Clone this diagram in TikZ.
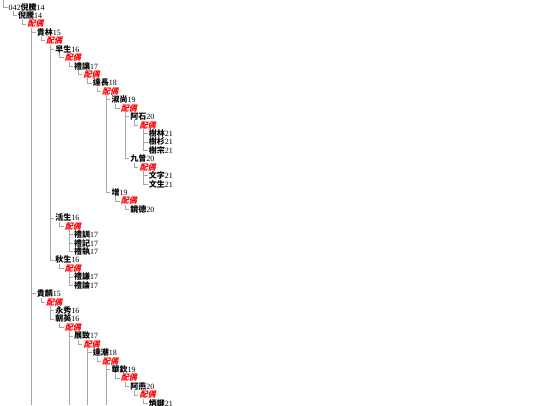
\documentclass[tikz,border=0pt]{standalone}
\usepackage{fontspec}
\setmainfont{Liberation Serif}
\newfontfamily\cjk{Noto Sans CJK TC}
\newfontfamily\cjkpenche[FakeSlant=0.25]{Noto Sans CJK TC}
\newcommand\hz[1]{{\cjk\bfseries #1}}

\tikzset{
  nom/.style={anchor=west, inner sep=0pt, font=\fontsize{8}{9}\selectfont},
  conj/.style={anchor=west, inner sep=0pt, text=red, font=\fontsize{8}{9}\selectfont\cjkpenche\bfseries},
  lien/.style={draw=black!35, line width=0.5pt}
}

\begin{document}
\begin{tikzpicture}[x=1pt,y=1pt]
\useasboundingbox (0,0) rectangle (540,-405);
\coordinate (haut) at (3.5,0);
\coordinate (bas) at (0,-405);

\begin{scope}[x=9.35pt,y=-8.43pt,shift={(8.5pt,-7pt)}]
%branche de 貴林
\node[nom] (racine) at (0,0) {042\hz{倪騰}14};
\node[nom] (niteng14) at (1,1) {\hz{倪騰}14};
\node[conj] (niteng14p) at (2,2) {配偶};
\node[nom] (guilin15) at (3,3) {\hz{貴林}15};
\node[conj] (guilin15p) at (4,4) {配偶};
\node[nom] (zaosheng16) at (5,5) {\hz{早生}16};
\node[conj] (zaosheng16p) at (6,6) {配偶};
\node[nom] (lirang17) at (7,7) {\hz{禮讓}17};
\node[conj] (lirang17p) at (8,8) {配偶};
\node[nom] (dachang18) at (9,9) {\hz{達長}18};
\node[conj] (dachang18p) at (10,10) {配偶};
\node[nom] (shushang19) at (11,11) {\hz{淑尚}19};
\node[conj] (shushang19p) at (12,12) {配偶};
\node[nom] (ashi20) at (13,13) {\hz{阿石}20};
\node[conj] (ashi20p) at (14,14) {配偶};
\node[nom] (shulin21) at (15,15) {\hz{樹林}21};
\node[nom] (shushan21) at (15,16) {\hz{樹杉}21};
\node[nom] (shuzong21) at (15,17) {\hz{樹宗}21};
\node[nom] (jiuceng20) at (13,18) {\hz{九曾}20};
\node[conj] (jiuceng20p) at (14,19) {配偶};
\node[nom] (wenzi21) at (15,20) {\hz{文字}21};
\node[nom] (wensheng21) at (15,21) {\hz{文生}21};
\node[nom] (qiang19) at (11,22) {\hz{增}19};
\node[conj] (qiang19p) at (12,23) {配偶};
\node[nom] (jingde20) at (13,24) {\hz{鏡德}20};
\node[nom] (huosheng16) at (5,25) {\hz{活生}16};
\node[conj] (huosheng16p) at (6,26) {配偶};
\node[nom] (lixun17) at (7,27) {\hz{禮訓}17};
\node[nom] (liji17) at (7,28) {\hz{禮記}17};
\node[nom] (lizhi17) at (7,29) {\hz{禮執}17};
\node[nom] (qiusheng16) at (5,30) {\hz{秋生}16};
\node[conj] (qiusheng16p) at (6,31) {配偶};
\node[nom] (liqian17) at (7,32) {\hz{禮謙}17};
\node[nom] (lilun17) at (7,33) {\hz{禮論}17};
%branche de 貴麟
\node[nom] (guiling15) at (3,34) {\hz{貴麟}15};
\node[conj] (guiling15p) at (4,35) {配偶};
\node[nom] (yongxiu16) at (5,36) {\hz{永秀}16};
\node[nom] (chaoying16) at (5,37) {\hz{朝英}16};
\node[conj] (chaoying16p) at (6,38) {配偶};
\node[nom] (zhanzhi17) at (7,39) {\hz{展致}17};
\node[conj] (zhanzhi17p) at (8,40) {配偶};
\node[nom] (dachao18) at (9,41) {\hz{達潮}18};
\node[conj] (dachao18p) at (10,42) {配偶};
\node[nom] (huaqin19) at (11,43) {\hz{華欽}19};
\node[conj] (huaqin19p) at (12,44) {配偶};
\node[nom] (ayan20) at (13,45) {\hz{阿燕}20};
\node[conj] (ayan20p) at (14,46) {配偶};
\node[nom] (bingjian21) at (15,47) {\hz{炳鍵}21};
\end{scope}

%liens
\draw[lien] (haut) |- ([xshift=-1pt]racine.west);
\draw[lien] ([xshift=4.3pt]racine.south west) |- ([xshift=-1pt]niteng14.west);
\draw[lien] ([xshift=4.3pt]niteng14.south west) |- ([xshift=-1pt]niteng14p.west);
\draw[lien] ([xshift=4.3pt]niteng14p.south west) |- ([xshift=-1pt]guilin15.west);
\draw[lien] ([xshift=4.3pt]niteng14p.south west) |- ([xshift=-1pt]guiling15.west);
\draw[lien] ([xshift=4.3pt]guilin15.south west) |- ([xshift=-1pt]guilin15p.west);
\draw[lien] ([xshift=4.3pt]guilin15p.south west) |- ([xshift=-1pt]zaosheng16.west);
\draw[lien] ([xshift=4.3pt]guilin15p.south west) |- ([xshift=-1pt]huosheng16.west);
\draw[lien] ([xshift=4.3pt]guilin15p.south west) |- ([xshift=-1pt]qiusheng16.west);
\draw[lien] ([xshift=4.3pt]zaosheng16.south west) |- ([xshift=-1pt]zaosheng16p.west);
\draw[lien] ([xshift=4.3pt]zaosheng16p.south west) |- ([xshift=-1pt]lirang17.west);
\draw[lien] ([xshift=4.3pt]lirang17.south west) |- ([xshift=-1pt]lirang17p.west);
\draw[lien] ([xshift=4.3pt]lirang17p.south west) |- ([xshift=-1pt]dachang18.west);
\draw[lien] ([xshift=4.3pt]dachang18.south west) |- ([xshift=-1pt]dachang18p.west);
\draw[lien] ([xshift=4.3pt]dachang18p.south west) |- ([xshift=-1pt]shushang19.west);
\draw[lien] ([xshift=4.3pt]dachang18p.south west) |- ([xshift=-1pt]qiang19.west);
\draw[lien] ([xshift=4.3pt]shushang19.south west) |- ([xshift=-1pt]shushang19p.west);
\draw[lien] ([xshift=4.3pt]shushang19p.south west) |- ([xshift=-1pt]ashi20.west);
\draw[lien] ([xshift=4.3pt]shushang19p.south west) |- ([xshift=-1pt]jiuceng20.west);
\draw[lien] ([xshift=4.3pt]ashi20.south west) |- ([xshift=-1pt]ashi20p.west);
\draw[lien] ([xshift=4.3pt]ashi20p.south west) |- ([xshift=-1pt]shulin21.west);
\draw[lien] ([xshift=4.3pt]ashi20p.south west) |- ([xshift=-1pt]shushan21.west);
\draw[lien] ([xshift=4.3pt]ashi20p.south west) |- ([xshift=-1pt]shuzong21.west);
\draw[lien] ([xshift=4.3pt]jiuceng20.south west) |- ([xshift=-1pt]jiuceng20p.west);
\draw[lien] ([xshift=4.3pt]jiuceng20p.south west) |- ([xshift=-1pt]wenzi21.west);
\draw[lien] ([xshift=4.3pt]jiuceng20p.south west) |- ([xshift=-1pt]wensheng21.west);
\draw[lien] ([xshift=4.3pt]qiang19.south west) |- ([xshift=-1pt]qiang19p.west);
\draw[lien] ([xshift=4.3pt]qiang19p.south west) |- ([xshift=-1pt]jingde20.west);
\draw[lien] ([xshift=4.3pt]huosheng16.south west) |- ([xshift=-1pt]huosheng16p.west);
\draw[lien] ([xshift=4.3pt]huosheng16p.south west) |- ([xshift=-1pt]lixun17.west);
\draw[lien] ([xshift=4.3pt]huosheng16p.south west) |- ([xshift=-1pt]liji17.west);
\draw[lien] ([xshift=4.3pt]huosheng16p.south west) |- ([xshift=-1pt]lizhi17.west);
\draw[lien] ([xshift=4.3pt]qiusheng16.south west) |- ([xshift=-1pt]qiusheng16p.west);
\draw[lien] ([xshift=4.3pt]qiusheng16p.south west) |- ([xshift=-1pt]liqian17.west);
\draw[lien] ([xshift=4.3pt]qiusheng16p.south west) |- ([xshift=-1pt]lilun17.west);
\draw[lien] ([xshift=4.3pt]guiling15.south west) |- ([xshift=-1pt]guiling15p.west);
\draw[lien] ([xshift=4.3pt]guiling15p.south west) |- ([xshift=-1pt]yongxiu16.west);
\draw[lien] ([xshift=4.3pt]guiling15p.south west) |- ([xshift=-1pt]chaoying16.west);
\draw[lien] ([xshift=4.3pt]chaoying16.south west) |- ([xshift=-1pt]chaoying16p.west);
\draw[lien] ([xshift=4.3pt]chaoying16p.south west) |- ([xshift=-1pt]zhanzhi17.west);
\draw[lien] ([xshift=4.3pt]zhanzhi17.south west) |- ([xshift=-1pt]zhanzhi17p.west);
\draw[lien] ([xshift=4.3pt]zhanzhi17p.south west) |- ([xshift=-1pt]dachao18.west);
\draw[lien] ([xshift=4.3pt]dachao18.south west) |- ([xshift=-1pt]dachao18p.west);
\draw[lien] ([xshift=4.3pt]dachao18p.south west) |- ([xshift=-1pt]huaqin19.west);
\draw[lien] ([xshift=4.3pt]huaqin19.south west) |- ([xshift=-1pt]huaqin19p.west);
\draw[lien] ([xshift=4.3pt]huaqin19p.south west) |- ([xshift=-1pt]ayan20.west);
\draw[lien] ([xshift=4.3pt]ayan20.south west) |- ([xshift=-1pt]ayan20p.west);
\draw[lien] ([xshift=4.3pt]ayan20p.south west) |- ([xshift=-1pt]bingjian21.west);
%suite hors cadre
\draw[lien] ([xshift=4.3pt]niteng14p.south west) -- ([xshift=4.3pt]niteng14p.south west |- bas);
\draw[lien] ([xshift=4.3pt]chaoying16p.south west) -- ([xshift=4.3pt]chaoying16p.south west |- bas);
\draw[lien] ([xshift=4.3pt]zhanzhi17p.south west) -- ([xshift=4.3pt]zhanzhi17p.south west |- bas);
\draw[lien] ([xshift=4.3pt]dachao18p.south west) -- ([xshift=4.3pt]dachao18p.south west |- bas);
\end{tikzpicture}
\end{document}
